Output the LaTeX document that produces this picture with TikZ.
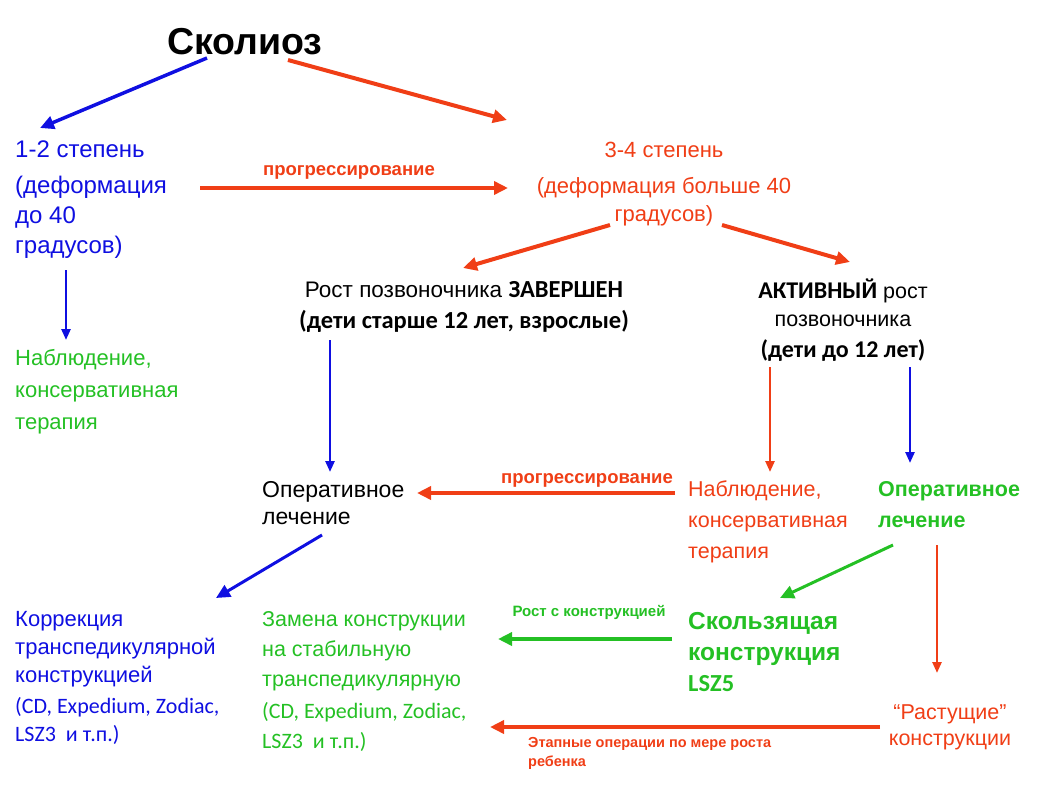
\documentclass[tikz,border=0pt]{standalone}
\usepackage{fontspec}
\setmainfont{Liberation Sans}
\newfontfamily\calibri{Carlito}
\usetikzlibrary{arrows.meta}

\definecolor{scBlue}{RGB}{15,15,225}
\definecolor{scRed}{RGB}{240,62,22}
\definecolor{scGreen}{RGB}{36,192,36}

\begin{document}
\begin{tikzpicture}[x=1pt,y=-1pt]
  \tikzset{txt/.style = {inner sep=0pt,font=\fontsize{20}{30}\selectfont}}
  \tikzset{lbl/.style = {inner sep=0pt,font=\fontsize{15}{19}\selectfont\bfseries}}
  \tikzset{fat/.style = {-{Triangle[length=14pt,width=13pt]},line width=4pt}}
  \tikzset{slim/.style = {-{Triangle[length=11pt,width=9pt]},line width=2.5pt}}

  \useasboundingbox (0,0) rectangle (1040,800);

	\node[inner sep=0pt,font=\fontsize{37.5}{40}\selectfont\bfseries] (scol) at (245,42) {Сколиоз};

	\node[txt,scBlue,anchor=north west,align=left,font=\fontsize{24}{30}\selectfont] (deg12) at (15,141)
	  {1-2 степень\\[6pt](деформация\\до 40\\градусов)};
	\node[txt,scRed,anchor=north,align=center,font=\fontsize{22}{28}\selectfont] (deg34) at (664,142)
	  {3-4 степень\\[8pt](деформация больше 40\\градусов)};

	\node[txt,anchor=north,align=center,font=\fontsize{22.5}{31}\selectfont] (done) at (464,281)
	  {Рост позвоночника {\calibri\bfseries\fontsize{24.5}{31}\selectfont ЗАВЕРШЕН}\\
	   {\calibri\bfseries\fontsize{24.5}{31}\selectfont (дети старше 12 лет, взрослые)}};
	\node[txt,anchor=north,align=center,font=\fontsize{21.5}{28}\selectfont] (active) at (843,279)
	  {{\calibri\bfseries\fontsize{24}{28}\selectfont АКТИВНЫЙ} рост\\ позвоночника\\[3pt]
	   {\calibri\bfseries\fontsize{24}{28}\selectfont (дети до 12 лет)}};

	\node[txt,scGreen,anchor=north west,align=left,font=\fontsize{22}{32}\selectfont] (obs1) at (15,349)
	  {Наблюдение,\\консервативная\\терапия};

	\node[txt,anchor=north west,align=left,font=\fontsize{23}{27}\selectfont] (oper1) at (262,481)
	  {Оперативное\\лечение};
	\node[txt,scRed,anchor=north west,align=left,font=\fontsize{21.5}{31}\selectfont] (obs2) at (688,481)
	  {Наблюдение,\\консервативная\\терапия};
	\node[txt,scGreen,anchor=north west,align=left,font=\fontsize{21.5}{31}\selectfont\bfseries] (oper2) at (878,481)
	  {Оперативное\\лечение};

	\node[txt,scBlue,anchor=north west,align=left,font=\fontsize{22}{28}\selectfont] (corr) at (15,611)
	  {Коррекция\\транспедикулярной\\конструкцией\\[3pt]
	   {\calibri\fontsize{22}{26}\selectfont (CD, Expedium, Zodiac,}\\
	   {\calibri\fontsize{22}{26}\selectfont LSZ3~~и т.п.)}};
	\node[txt,scGreen,anchor=north west,align=left,font=\fontsize{21.5}{30}\selectfont] (swap) at (262,611)
	  {Замена конструкции\\на стабильную\\транспедикулярную\\[2pt]
	   {\calibri\fontsize{22}{25}\selectfont (CD, Expedium, Zodiac,}\\
	   {\calibri\fontsize{22}{25}\selectfont LSZ3~~и т.п.)}};
	\node[txt,scGreen,anchor=north west,align=left,font=\fontsize{24.5}{31}\selectfont\bfseries] (slide) at (688,612)
	  {Скользящая\\конструкция\\{\calibri\bfseries LSZ5}};
	\node[txt,scRed,anchor=north,align=center,font=\fontsize{21.5}{26}\selectfont] (grow) at (950,704)
	  {“Растущие”\\конструкции};

	% free ends of the arrows
	\coordinate (a1) at (207,58);   \coordinate (a2) at (40,128);
	\coordinate (b1) at (288,60);   \coordinate (b2) at (507,120);
	\coordinate (c1) at (200,188);  \coordinate (c2) at (508,188);
	\coordinate (d1) at (610,225);  \coordinate (d2) at (463,268);
	\coordinate (e1) at (722,225);  \coordinate (e2) at (850,262);
	\coordinate (f1) at (66,270);   \coordinate (f2) at (66,340);
	\coordinate (g1) at (330,340);  \coordinate (g2) at (330,472);
	\coordinate (h1) at (770,367);  \coordinate (h2) at (770,472);
	\coordinate (i1) at (910,367);  \coordinate (i2) at (910,463);
	\coordinate (j1) at (675,493);  \coordinate (j2) at (417,493);
	\coordinate (k1) at (322,535);  \coordinate (k2) at (216,598);
	\coordinate (l1) at (893,545);  \coordinate (l2) at (780,598);
	\coordinate (m1) at (937,545);  \coordinate (m2) at (937,673);
	\coordinate (n1) at (672,639);  \coordinate (n2) at (498,639);
	\coordinate (o1) at (880,727);  \coordinate (o2) at (490,727);

	\draw[fat,scBlue,line width=3.5pt] (a1) -- (a2);
	\draw[fat,scRed] (b1) -- (b2);
	\draw[fat,scRed] (c1) -- (c2);
	\node[lbl,scRed,font=\fontsize{18.5}{19}\selectfont\bfseries] (prog1) at (349,172) {прогрессирование};
	\draw[fat,scRed] (d1) -- (d2);
	\draw[fat,scRed] (e1) -- (e2);
	\draw[slim,scBlue] (f1) -- (f2);
	\draw[slim,scBlue] (g1) -- (g2);
	\draw[slim,scRed] (h1) -- (h2);
	\draw[slim,scBlue] (i1) -- (i2);
	\draw[fat,scRed] (j1) -- (j2);
	\node[lbl,scRed,font=\fontsize{18.5}{19}\selectfont\bfseries] (prog2) at (587,480) {прогрессирование};
	\draw[fat,scBlue,line width=3pt] (k1) -- (k2);
	\draw[fat,scGreen,line width=3pt] (l1) -- (l2);
	\draw[slim,scRed] (m1) -- (m2);
	\draw[fat,scGreen] (n1) -- (n2);
	\node[lbl,scGreen] (withc) at (589,612) {Рост с конструкцией};
	\draw[fat,scRed] (o1) -- (o2);
	\node[lbl,scRed,anchor=north west,align=left,font=\fontsize{14.5}{19}\selectfont\bfseries] (stage) at (528,737)
	  {Этапные операции по мере роста\\ребенка};
\end{tikzpicture}
\end{document}
